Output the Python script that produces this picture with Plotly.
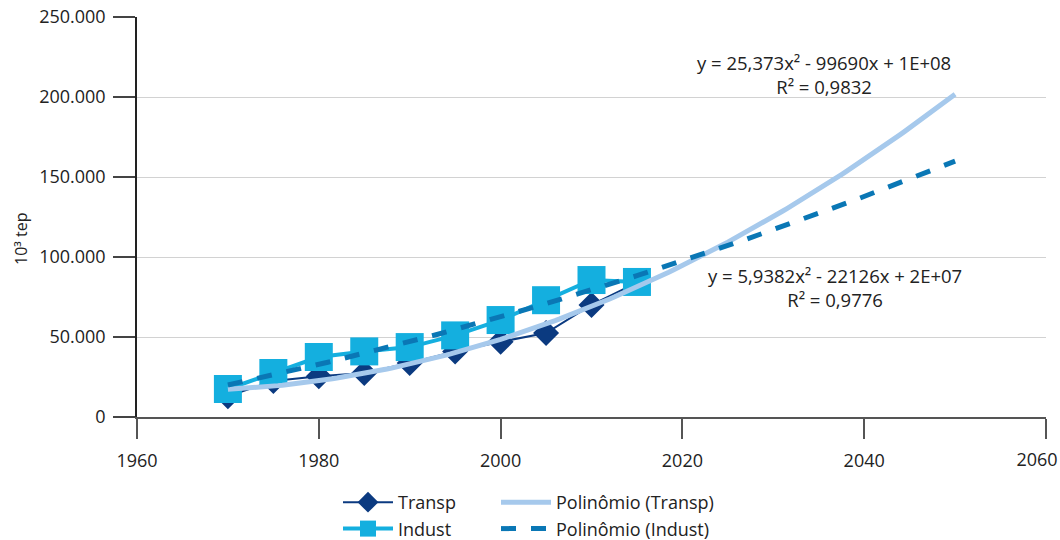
import numpy as np
import plotly.graph_objects as go

# Consumo de energia por setor (10³ tep)
anos = [1970, 1975, 1980, 1985, 1990, 1995, 2000, 2005, 2010, 2015]
transp = [13000, 22500, 25500, 27500, 33700, 41000, 47000, 52500, 70000, 84000]
indust = [17500, 27500, 37500, 41000, 43700, 51000, 60600, 73000, 85600, 84400]

# Rótulos do eixo x
x_ticks = [1960, 1980, 2000, 2020, 2040, 2060]
x_labels = ["1960", "1980", "2000", "2020", "2040", "2060"]

# Linhas de tendência polinomial (grau 2), projetadas até 2050
anos_proj = np.linspace(1970, 2050, 161)
fit_transp = np.polynomial.Polynomial.fit(anos, transp, 2)
fit_indust = np.polynomial.Polynomial.fit(anos, indust, 2)

eq_transp = "y = 25,373x² - 99690x + 1E+08<br>R² = 0,9832"
eq_indust = "y = 5,9382x² - 22126x + 2E+07<br>R² = 0,9776"

C_TRANSP = "#0b3a80"
C_INDUST = "#14afdf"
C_POLY_T = "#a6c9ec"
C_POLY_I = "#0a77b5"
FONT = "Open Sans"

W, H = 1060, 540
ML, MR, MT, MB = 137, 14, 17, 123
pw, ph = W - ML - MR, H - MT - MB


def px_x(px):
    return (px - ML) / pw


def px_y(py):
    return (H - MB - py) / ph


fig = go.Figure()
fig.add_trace(go.Scatter(
    x=anos, y=transp, name="Transp", mode="lines+markers",
    line=dict(color=C_TRANSP, width=2),
    marker=dict(symbol="diamond", size=20, color=C_TRANSP),
    legend="legend",
))
fig.add_trace(go.Scatter(
    x=anos, y=indust, name="Indust", mode="lines+markers",
    line=dict(color=C_INDUST, width=4),
    marker=dict(symbol="square", size=28, color=C_INDUST),
    legend="legend",
))
fig.add_trace(go.Scatter(
    x=anos_proj, y=fit_transp(anos_proj), name="Polinômio (Transp)", mode="lines",
    line=dict(color=C_POLY_T, width=5),
    legend="legend2",
))
fig.add_trace(go.Scatter(
    x=anos_proj, y=fit_indust(anos_proj), name="Polinômio (Indust)", mode="lines",
    line=dict(color=C_POLY_I, width=5, dash="dash"),
    legend="legend2",
))

ann_font = dict(family=FONT, size=18.5, color="#222")
fig.add_annotation(x=px_x(824), y=px_y(74.5), xref="paper", yref="paper", text=eq_transp,
                   showarrow=False, font=ann_font, align="center",
                   xanchor="center", yanchor="middle")
fig.add_annotation(x=px_x(835), y=px_y(287.5), xref="paper", yref="paper", text=eq_indust,
                   showarrow=False, font=ann_font, align="center",
                   xanchor="center", yanchor="middle")
# unidade no topo do eixo y
fig.add_annotation(x=px_x(118), y=px_y(3), xref="paper", yref="paper",
                   text="(10³ tep)", showarrow=False, xanchor="center", yanchor="bottom",
                   font=dict(family=FONT, size=20, color="#333"))
# título do eixo y
fig.add_annotation(x=px_x(21), y=px_y(239), xref="paper", yref="paper",
                   text="10³ tep", showarrow=False, textangle=-90,
                   xanchor="center", yanchor="middle",
                   font=dict(family=FONT, size=16, color="#222"))

fig.update_layout(
    width=W, height=H,
    margin=dict(l=ML, r=MR, t=MT, b=MB, autoexpand=False),
    paper_bgcolor="white", plot_bgcolor="white",
    separators=",.",
    font=dict(family=FONT, size=17, color="#222"),
    xaxis=dict(
        range=[1960, 2060], tickvals=x_ticks,
        ticktext=x_labels[:-1] + [""],
        showgrid=False, zeroline=False,
        showline=True, linecolor="#555", linewidth=2,
        ticks="outside", ticklen=20, tickcolor="#555", tickwidth=2,
        tickfont=dict(size=18), ticklabelstandoff=6,
    ),
    # último rótulo do eixo x, recuado para caber na área do gráfico
    xaxis2=dict(
        range=[1960, 2060], overlaying="x", side="bottom", anchor="y",
        tickvals=x_ticks[-1:], ticktext=x_labels[-1:],
        showgrid=False, zeroline=False, showline=False,
        ticks="outside", ticklen=20, tickcolor="rgba(0,0,0,0)",
        tickfont=dict(size=18), ticklabelstandoff=6,
        ticklabelshift=-9, ticklabeloverflow="allow",
    ),
    yaxis=dict(
        range=[0, 250000], dtick=50000, tickformat=",d",
        showgrid=True, gridcolor="#d2d2d2", gridwidth=1,
        zeroline=False,
        showline=True, linecolor="#222", linewidth=1.5,
        ticks="outside", ticklen=22, tickcolor="#444", tickwidth=1.5,
        tickfont=dict(size=18), ticklabelstandoff=4,
    ),
    legend=dict(
        x=338 / W, y=1 - 484 / H, xref="container", yref="container",
        xanchor="left", yanchor="top",
        orientation="v", tracegroupgap=0, itemwidth=50,
        font=dict(size=18), bgcolor="rgba(0,0,0,0)",
    ),
    legend2=dict(
        x=496 / W, y=1 - 484 / H, xref="container", yref="container",
        xanchor="left", yanchor="top",
        orientation="v", tracegroupgap=0, itemwidth=50,
        font=dict(size=18), bgcolor="rgba(0,0,0,0)",
    ),
)

# eixo auxiliar precisa de um traço para ser desenhado
fig.add_trace(go.Scatter(x=[None], y=[None], xaxis="x2", showlegend=False,
                         hoverinfo="skip"))

fig.write_html("out.html")
